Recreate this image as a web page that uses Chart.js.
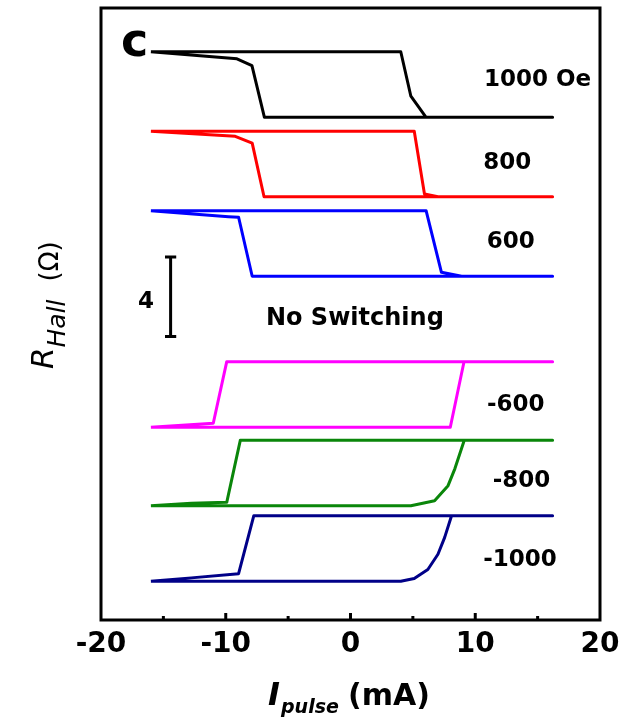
<!DOCTYPE html>
<html>
<head>
<meta charset="utf-8">
<script src="https://cdn.jsdelivr.net/npm/chart.js@4.4.1/dist/chart.umd.min.js"></script>
<style>
  html, body { margin: 0; padding: 0; background: #fff; }
  #wrap { width: 628px; height: 719px; position: relative; }
</style>
</head>
<body>
<div id="wrap"><canvas id="chart"></canvas></div>
<script>
// field labels and vertical offsets of each loop (Ohm)
const fieldLabels = ['1000 Oe', '800', '600', '-600', '-800', '-1000'];
const loopOffsets = [25.3, 21.3, 17.3, 9.7, 5.75, 1.95];
const lineColors = ['#000000', '#ff0000', '#0000ff', '#ff00ff', '#0a860a', '#000088'];

// I_pulse (mA) and R_Hall relative to loop bottom (Ohm)
const pulse1000 = [-16.0, -9.1, -7.9, -6.9, 16.2, 6.06, 4.84, 4.03, -16.0];
const rHall1000 = [3.3, 2.94, 2.6, 0, 0, 0, 1.06, 3.3, 3.3];

const pulse800 = [-16.0, -9.24, -7.88, -6.93, 16.2, 7.01, 5.93, 5.11, -16.0];
const rHall800 = [3.3, 3.04, 2.7, 0, 0, 0, 0.14, 3.3, 3.3];

const pulse600 = [-16.0, -9.78, -8.97, -7.88, 16.2, 8.91, 7.29, 6.06, -16.0];
const rHall600 = [3.3, 3.0, 2.97, 0, 0, 0, 0.2, 3.3, 3.3];

const pulseM600 = [-16.0, 8.0, 9.1, 16.2, -9.92, -11.0, -16.0];
const rHallM600 = [0, 0, 3.3, 3.3, 3.3, 0.2, 0];

const pulseM800 = [-16.0, 4.84, 6.74, 7.82, 8.37, 9.12, 16.2, -8.83, -9.92, -12.76, -16.0];
const rHallM800 = [0, 0, 0.25, 1.01, 1.87, 3.3, 3.3, 3.3, 0.17, 0.12, 0];

const pulseM1000 = [-16.0, 4.03, 5.11, 6.20, 7.01, 7.55, 8.10, 16.2, -7.75, -8.97, -12.76, -16.0];
const rHallM1000 = [0, 0, 0.14, 0.59, 1.36, 2.21, 3.3, 3.3, 3.3, 0.38, 0.17, 0];

const pulseSets = [pulse1000, pulse800, pulse600, pulseM600, pulseM800, pulseM1000];
const rHallSets = [rHall1000, rHall800, rHall600, rHallM600, rHallM800, rHallM1000];

// 4 Ohm scale bar
const scaleBarX = -14.42;
const scaleBarLow = 14.27;
const scaleBarSize = 4;

const xTicks = [-20, -10, 0, 10, 20];

// annotation spots (data coords)
const labelX = [15.0, 12.56, 12.84, 13.24, 13.7, 13.58];
const labelY = [27.3, 23.1, 19.14, 10.95, 7.12, 3.15];

const FONT = '"DejaVu Sans", sans-serif';

const datasets = pulseSets.map((xs, i) => ({
    data: xs.map((v, j) => ({ x: v, y: rHallSets[i][j] + loopOffsets[i] })),
    borderColor: lineColors[i],
    borderWidth: 3,
    showLine: true,
    pointRadius: 0,
    tension: 0,
    borderJoinStyle: 'round'
}));

const capW = 0.45;
const barTop = scaleBarLow + scaleBarSize;
datasets.push({
    data: [
        { x: scaleBarX - capW, y: barTop }, { x: scaleBarX + capW, y: barTop },
        { x: scaleBarX, y: barTop }, { x: scaleBarX, y: scaleBarLow },
        { x: scaleBarX - capW, y: scaleBarLow }, { x: scaleBarX + capW, y: scaleBarLow }
    ],
    borderColor: '#000',
    borderWidth: 3,
    showLine: true,
    pointRadius: 0
});

function centerText(ctx, text, cx, cy, size) {
    ctx.fillText(text, cx, cy + size * 0.365);
}

const annotatePlugin = {
    id: 'annotate',
    afterDraw(chart) {
        const { ctx, chartArea: a, scales: { x, y } } = chart;
        ctx.save();
        // frame
        ctx.strokeStyle = '#000';
        ctx.lineWidth = 3;
        ctx.strokeRect(a.left, a.top, a.right - a.left, a.bottom - a.top);
        // inward ticks
        [-15, -10, -5, 0, 5, 10, 15].forEach(v => {
            const px = x.getPixelForValue(v);
            const len = v % 10 === 0 ? 7 : 4;
            ctx.beginPath();
            ctx.moveTo(px, a.bottom);
            ctx.lineTo(px, a.bottom - len);
            ctx.stroke();
        });

        ctx.fillStyle = '#000';
        ctx.textAlign = 'center';
        ctx.textBaseline = 'alphabetic';
        ctx.font = 'bold 23px ' + FONT;
        fieldLabels.forEach((t, i) => {
            centerText(ctx, t, x.getPixelForValue(labelX[i]), y.getPixelForValue(labelY[i]), 23);
        });
        ctx.font = 'bold 24px ' + FONT;
        centerText(ctx, 'No Switching', x.getPixelForValue(0.35), y.getPixelForValue(15.3), 24);
        ctx.font = 'bold 23px ' + FONT;
        centerText(ctx, '4', x.getPixelForValue(-16.4), y.getPixelForValue(16.1), 23);

        // panel letter
        ctx.textAlign = 'left';
        ctx.font = 'bold 46px ' + FONT;
        ctx.fillText('c', 121, 56);

        // x title
        ctx.font = 'italic bold 32px ' + FONT;
        ctx.fillText('I', 268, 705);
        ctx.font = 'italic bold 19px ' + FONT;
        ctx.fillText('pulse', 281, 713);
        ctx.font = 'bold 30px ' + FONT;
        ctx.fillText('(mA)', 348, 705);

        // y title (rotated)
        ctx.translate(0, 369);
        ctx.rotate(-Math.PI / 2);
        ctx.font = 'italic 31px ' + FONT;
        ctx.fillText('R', 0, 53);
        let w = ctx.measureText('R').width;
        ctx.font = 'italic 25px ' + FONT;
        ctx.fillText('Hall', w, 65);
        w += ctx.measureText('Hall').width + 18;
        ctx.font = '26px ' + FONT;
        ctx.fillText('(\u03A9)', w, 58);
        ctx.restore();
    }
};

new Chart(document.getElementById('chart'), {
    type: 'scatter',
    data: { datasets },
    options: {
        responsive: true,
        maintainAspectRatio: false,
        animation: false,
        layout: { padding: { left: 101, right: 28, top: 8, bottom: 0 } },
        plugins: { legend: { display: false }, tooltip: { enabled: false } },
        scales: {
            x: {
                type: 'linear',
                min: -20,
                max: 20,
                afterFit(scale) { scale.height = 99; },
                afterBuildTicks(scale) { scale.ticks = xTicks.map(v => ({ value: v })); },
                grid: { display: false, drawTicks: false },
                border: { display: false },
                ticks: {
                    color: '#000',
                    padding: 8,
                    font: { family: FONT, size: 28, weight: 'bold' }
                }
            },
            y: {
                type: 'linear',
                display: false,
                min: 0,
                max: 30.8
            }
        }
    },
    plugins: [annotatePlugin]
});
</script>
</body>
</html>
